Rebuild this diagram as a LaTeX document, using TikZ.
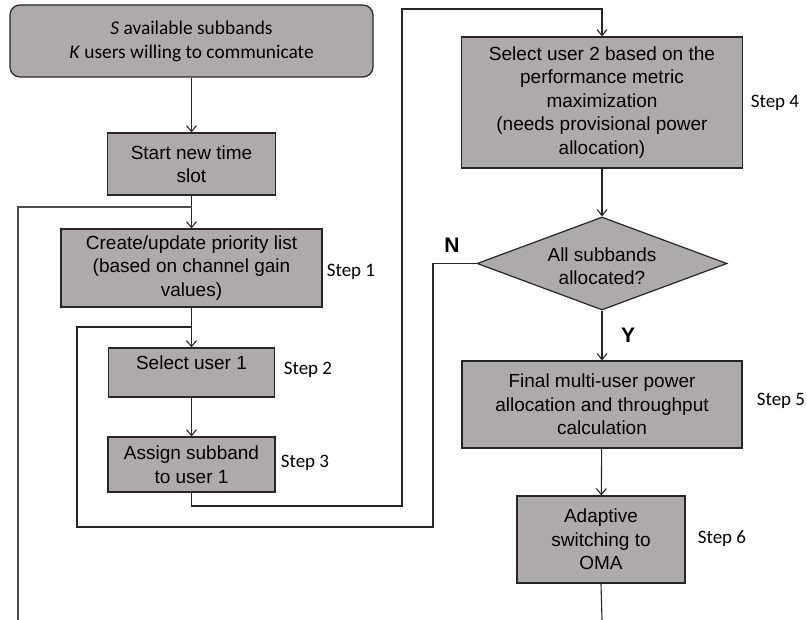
\documentclass[tikz,border=0pt]{standalone}
\usepackage{fontspec}
\setmainfont{Liberation Sans}
\newfontfamily\calibri{Carlito}
\usetikzlibrary{arrows.meta,shapes.geometric}
\definecolor{boxgray}{RGB}{174,170,170}
\definecolor{linecol}{RGB}{38,38,38}
\begin{document}
\begin{tikzpicture}[x=1pt,y=-1pt,
  box/.style={draw=linecol, line width=1.2pt, fill=boxgray, align=center, inner sep=0pt,
    font=\fontsize{19}{23.5}\selectfont},
  boxtext/.style={align=center, inner sep=0pt, font=\fontsize{19}{23.5}\selectfont},
  steplbl/.style={font=\calibri\fontsize{19}{22}\selectfont, inner sep=0pt},
  conn/.style={draw=linecol, line width=1.1pt},
  arr/.style={conn, -{Straight Barb[length=6pt,width=10pt]}},
  yn/.style={font=\bfseries\fontsize{21}{24}\selectfont, inner sep=0pt}
]
\useasboundingbox (0,0) rectangle (807,620);

% nodes
\node[box, rounded corners=10pt, minimum width=363, minimum height=72,
  font=\calibri\fontsize{19.4}{24}\selectfont] (top) at (191.5,41)
  {\textit{S} available subbands\\ \textit{K} users willing to communicate};
\node[box, minimum width=168, minimum height=62] (start) at (191.5,164) {Start new time\\slot};
\node[box, minimum width=261, minimum height=78] (prio) at (191.5,268)
  {Create/update priority list\\(based on channel gain\\values)};
\node[box, minimum width=166, minimum height=49] (sel1) at (191.5,372.5) {};
\node[boxtext] at (191.5,363) {Select user 1};
\node[box, minimum width=167, minimum height=55] (assign) at (191.5,464.5) {Assign subband\\to user 1};

\node[box, minimum width=281, minimum height=131] (s4) at (602,102.5)
  {Select user 2 based on the\\performance metric\\maximization\\(needs provisional power\\allocation)};
\node[draw=linecol, line width=1.2pt, fill=boxgray, shape=diamond, inner sep=0pt,
  minimum width=250, minimum height=93] (dia) at (602,263.5) {};
\node[boxtext] at (602,266) {All subbands\\allocated?};
\node[box, minimum width=280, minimum height=87] (s5) at (602,404.5)
  {Final multi-user power\\allocation and throughput\\calculation};
\node[box, minimum width=168, minimum height=87] (s6) at (601,539.5)
  {Adaptive\\switching to\\OMA};

% step labels
\node[steplbl] (l1) at (351,272) {Step 1};
\node[steplbl] (l2) at (308,370) {Step 2};
\node[steplbl] (l3) at (305,463) {Step 3};
\node[steplbl] (l4) at (775,103) {Step 4};
\node[steplbl] (l5) at (781,401) {Step 5};
\node[steplbl] (l6) at (722,539) {Step 6};
\node[yn] (N) at (452,245) {N};
\node[yn] (Y) at (628,335) {Y};

% coordinates
\coordinate (j1) at (191.5,207);
\coordinate (obl) at (18,620);
\coordinate (obr) at (602,620);
\coordinate (j2) at (191.5,327);
\coordinate (n1) at (433,527);
\coordinate (n2) at (77,327);
\coordinate (a1) at (402,506);
\coordinate (a2) at (602,9);

% connectors
\draw[arr] (top) -- (start);
\draw[arr] (start) -- (prio);
\draw[arr] (prio) -- (sel1);
\draw[arr] (sel1) -- (assign);
\draw[conn, line width=1.4pt, draw=black!70] (obl) |- (j1);
\draw[conn] (dia.west) -| (n1) -| (n2) -- (j2);
\draw[arr] (assign.south) |- (a1) |- (a2) -- (s4.north);
\draw[arr] (s4) -- (dia);
\draw[arr] (dia) -- (s5);
\draw[arr] (s5) -- (s6);
\draw[conn] (s6.south) -- (obr);
\end{tikzpicture}
\end{document}
